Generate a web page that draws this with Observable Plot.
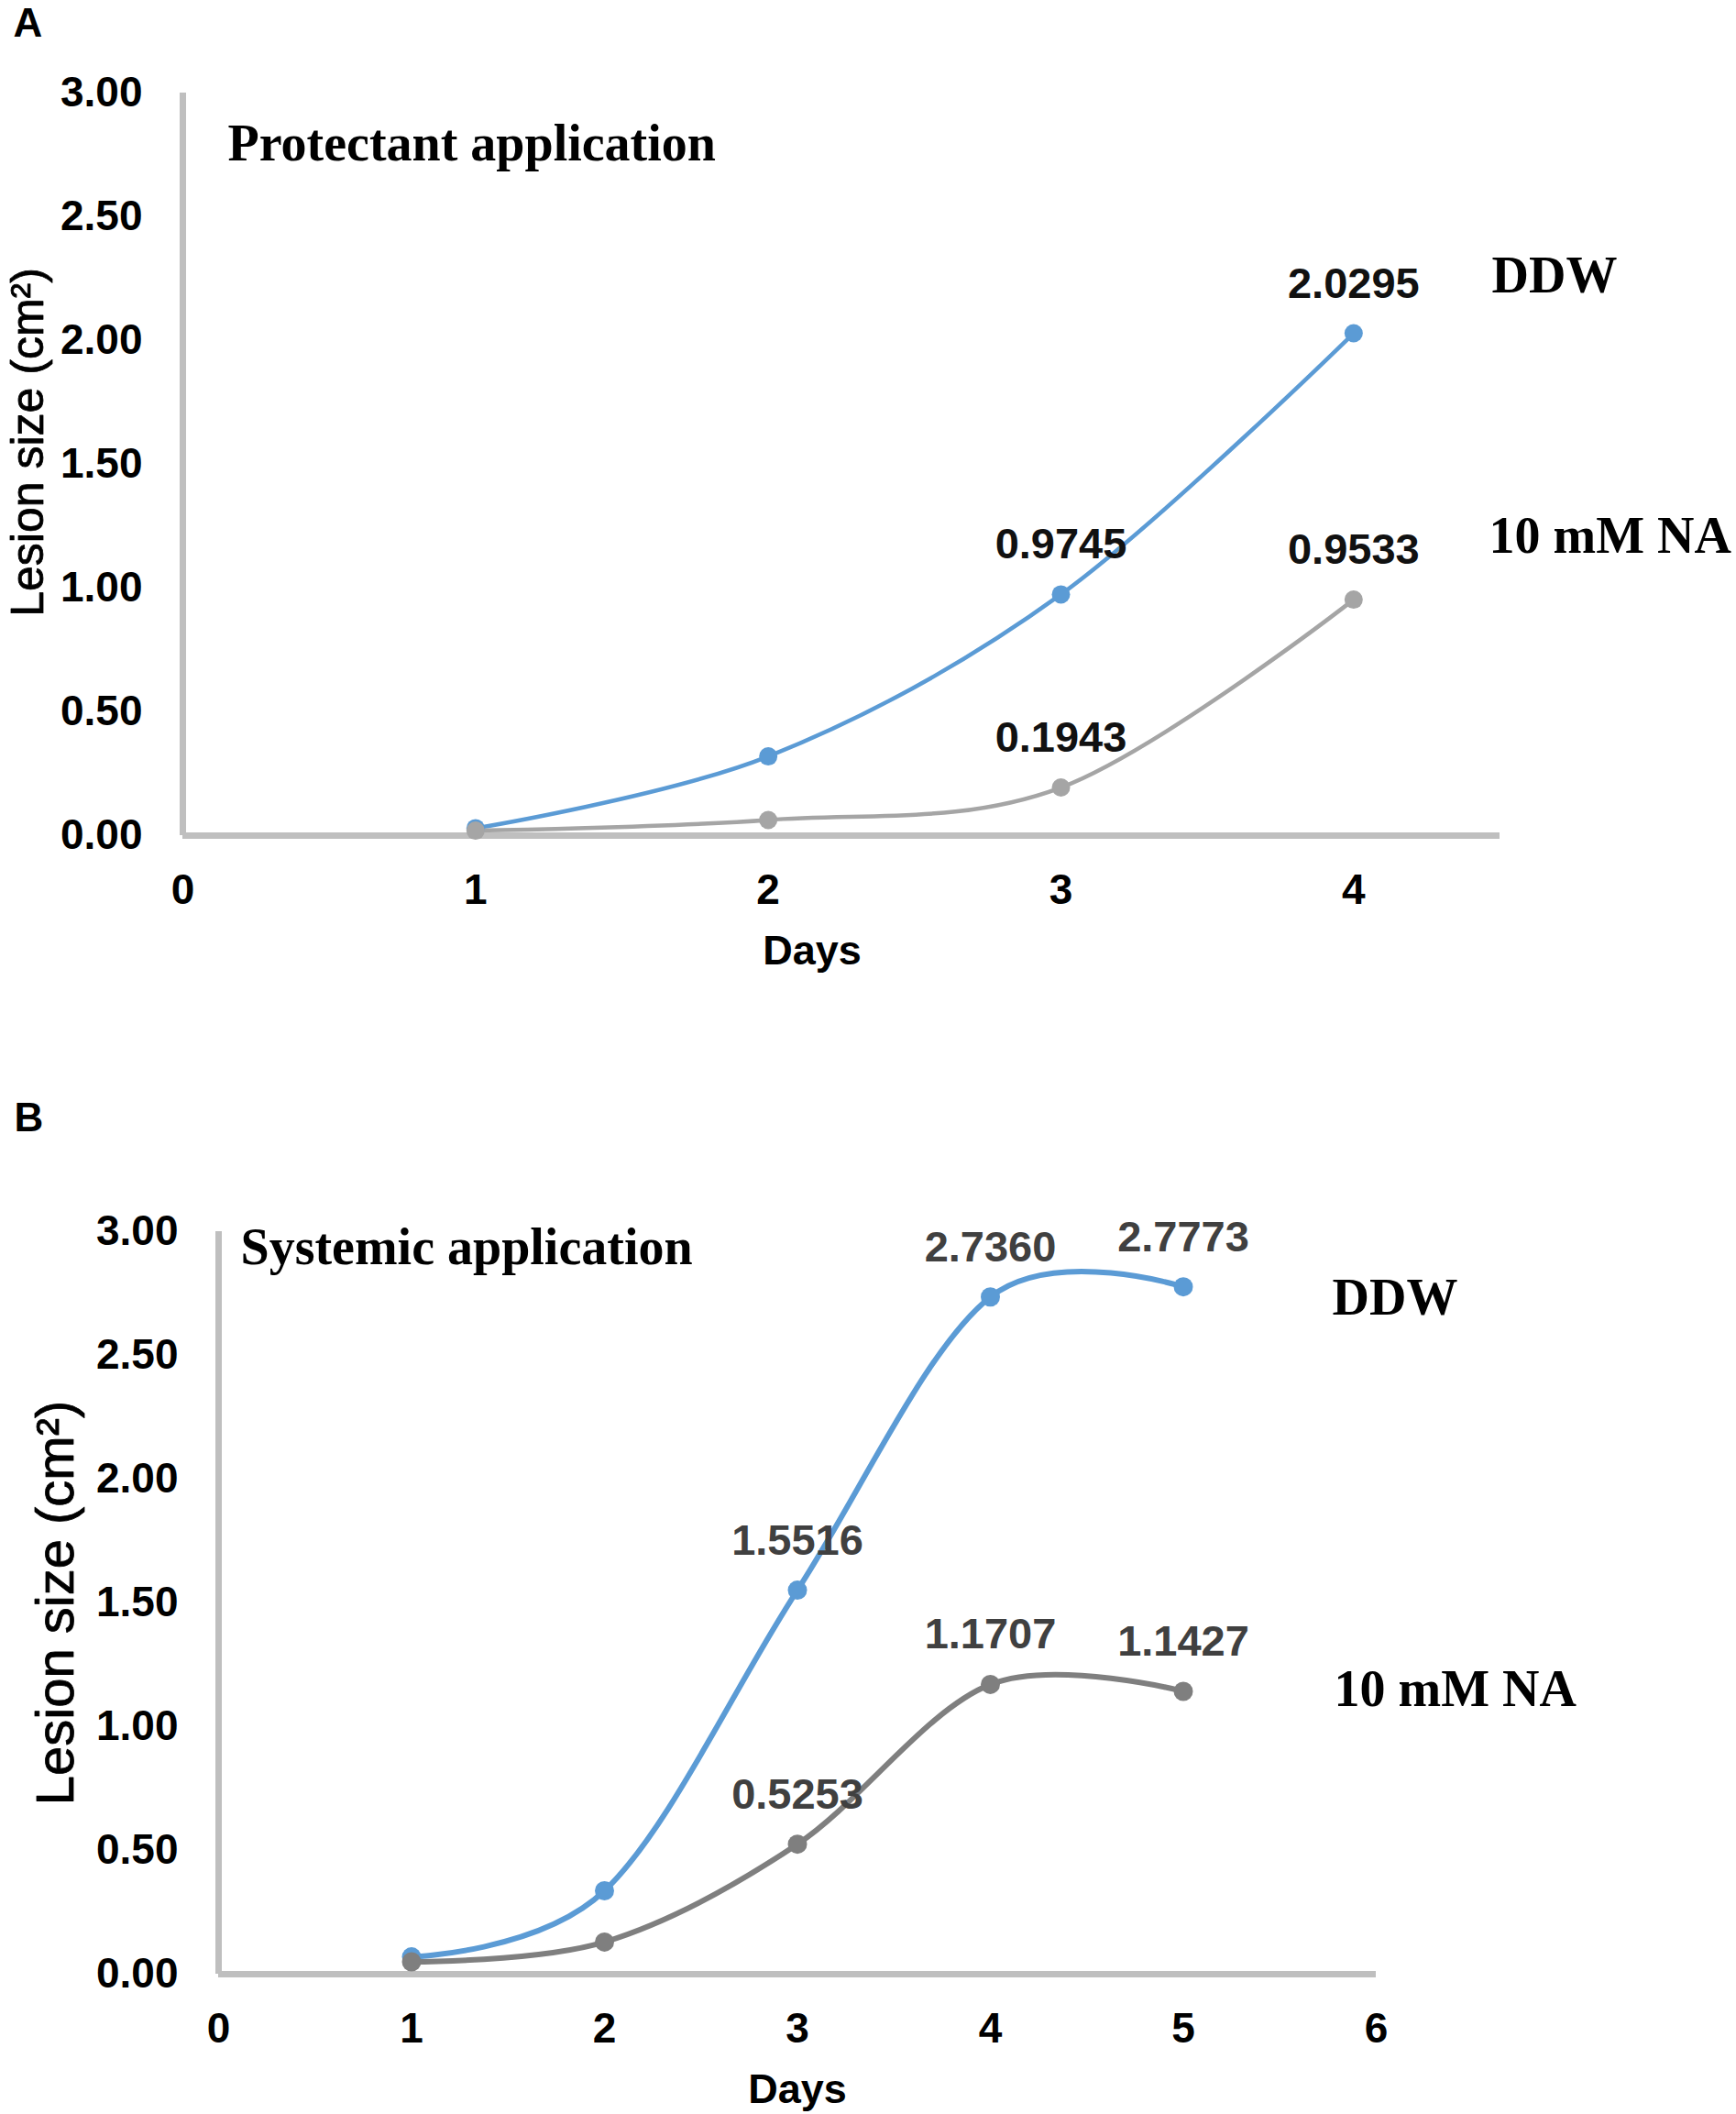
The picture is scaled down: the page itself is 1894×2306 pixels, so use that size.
<!DOCTYPE html>
<html><head><meta charset="utf-8">
<script src="https://cdn.jsdelivr.net/npm/d3@7"></script>
<script src="https://cdn.jsdelivr.net/npm/@observablehq/plot@0.6"></script>
<style>
body{margin:0;background:#fff}
#wrap{width:1894px;height:2306px;overflow:hidden}
#wrap svg{display:block}
</style>
</head><body><div id="wrap"></div>
<script>
// ---- data ----
const seriesNames = ["DDW", "10 mM NA"];
const aDays = [1, 2, 3, 4];
const aDDW = [0.03, 0.32, 0.9745, 2.0295];
const aNA = [0.02, 0.063, 0.1943, 0.9533];
const aLabeledDays = [3, 4];
const bDays = [1, 2, 3, 4, 5];
const bDDW = [0.07, 0.337, 1.5516, 2.7360, 2.7773];
const bNA = [0.05, 0.13, 0.5253, 1.1707, 1.1427];
const bLabeledDays = [3, 4, 5];
const yTicks = [0, 0.5, 1, 1.5, 2, 2.5, 3];
const aXTicks = [0, 1, 2, 3, 4];
const bXTicks = [0, 1, 2, 3, 4, 5, 6];

const SANS = "Liberation Sans, Arial, sans-serif";
const SERIF = "Liberation Serif, Times New Roman, serif";

function rowsOf(days, s1, s2) {
  const rows = [];
  days.forEach((d, i) => rows.push({day: d, value: s1[i], series: seriesNames[0]}));
  days.forEach((d, i) => rows.push({day: d, value: s2[i], series: seriesNames[1]}));
  return rows;
}

function panel(cfg) {
  const rows = rowsOf(cfg.days, cfg.s1, cfg.s2);
  const labeled = rows.filter(r => cfg.labeled.includes(r.day));
  const color = s => s === seriesNames[0] ? "#5B9BD5" : cfg.gray;
  const serif = {fontFamily: SERIF, fontSize: 56, fontWeight: "bold", fill: "#000", lineAnchor: "middle"};
  return Plot.plot({
    width: 1894,
    height: cfg.height,
    marginTop: cfg.mt,
    marginBottom: cfg.mb,
    marginLeft: cfg.ml,
    marginRight: cfg.mr,
    style: {fontFamily: SANS, background: "white", overflow: "visible"},
    x: {domain: cfg.xDomain},
    y: {domain: [0, 3]},
    marks: [
      Plot.ruleX([0], {stroke: "#BFBFBF", strokeWidth: 7}),
      Plot.ruleY([0], {stroke: "#BFBFBF", strokeWidth: 7}),
      Plot.axisY({ticks: yTicks, tickFormat: d3.format(".2f"), tickSize: 0, tickPadding: 44,
        fontSize: 46, fontWeight: "bold", fill: "#000", label: null}),
      Plot.axisX({ticks: cfg.xTicks, tickFormat: d3.format("d"), tickSize: 0, tickPadding: 42,
        fontSize: 46, fontWeight: "bold", fill: "#000", label: null}),
      Plot.line(rows, {x: "day", y: "value", z: "series", stroke: d => color(d.series),
        strokeWidth: cfg.lw, curve: "cardinal"}),
      Plot.dot(rows, {x: "day", y: "value", fill: d => color(d.series), r: cfg.r}),
      Plot.text(labeled, {x: "day", y: "value", text: d => d.value.toFixed(4), dy: -54,
        fontSize: 47, fontWeight: "bold", fill: cfg.labelColor}),
      // axis titles
      Plot.text(["Days"], {frameAnchor: "bottom", lineAnchor: "middle", textAnchor: "middle",
        dx: cfg.daysDx, dy: 126, fontSize: 45, fontWeight: "bold", fill: "#000"}),
      Plot.text(["Lesion size (cm²)"], {frameAnchor: "left", rotate: -90, lineAnchor: "top", textAnchor: "middle",
        dx: cfg.ylDx, dy: cfg.ylDy, fontSize: cfg.ylSize, fill: "#000", stroke: "#000", strokeWidth: 0.8}),
      // panel title and series names
      Plot.text([cfg.title], {frameAnchor: "top-left", textAnchor: "start", dx: cfg.titleDx, dy: cfg.titleDy, ...serif}),
      Plot.text([seriesNames[0]], {frameAnchor: "top-right", textAnchor: "start", dx: cfg.n1Dx, dy: cfg.n1Dy, ...serif}),
      Plot.text([seriesNames[1]], {frameAnchor: "top-right", textAnchor: "start", dx: cfg.n2Dx, dy: cfg.n2Dy, ...serif}),
      // panel letter
      Plot.text([cfg.letter], {frameAnchor: "top-left", textAnchor: "start", lineAnchor: "middle",
        dx: cfg.letterDx, dy: cfg.letterDy, fontSize: 44, fontWeight: "bold", fill: "#000"})
    ]
  });
}

const wrap = document.getElementById("wrap");
wrap.append(panel({
  days: aDays, s1: aDDW, s2: aNA, labeled: aLabeledDays, xTicks: aXTicks, xDomain: [0, 4.5],
  height: 1071, mt: 101, mb: 160, ml: 199, mr: 258,
  gray: "#A5A5A5", labelColor: "#111", lw: 4.5, r: 10,
  daysDx: -32, ylDx: -188, ylDy: -24, ylSize: 50,
  title: "Protectant application", titleDx: 49, titleDy: 56,
  n1Dx: -9, n1Dy: 200, n2Dx: -12, n2Dy: 484,
  letter: "A", letterDx: -185, letterDy: -76
}));
wrap.append(panel({
  days: bDays, s1: bDDW, s2: bNA, labeled: bLabeledDays, xTicks: bXTicks, xDomain: [0, 6],
  height: 1235, mt: 272, mb: 153, ml: 238, mr: 393,
  gray: "#7F7F7F", labelColor: "#404040", lw: 6, r: 10.5,
  daysDx: 0, ylDx: -200, ylDy: 0, ylSize: 58,
  title: "Systemic application", titleDx: 24, titleDy: 18,
  n1Dx: -48, n1Dy: 73, n2Dx: -46, n2Dy: 500,
  letter: "B", letterDx: -223, letterDy: -124
}));
</script>
</body></html>
